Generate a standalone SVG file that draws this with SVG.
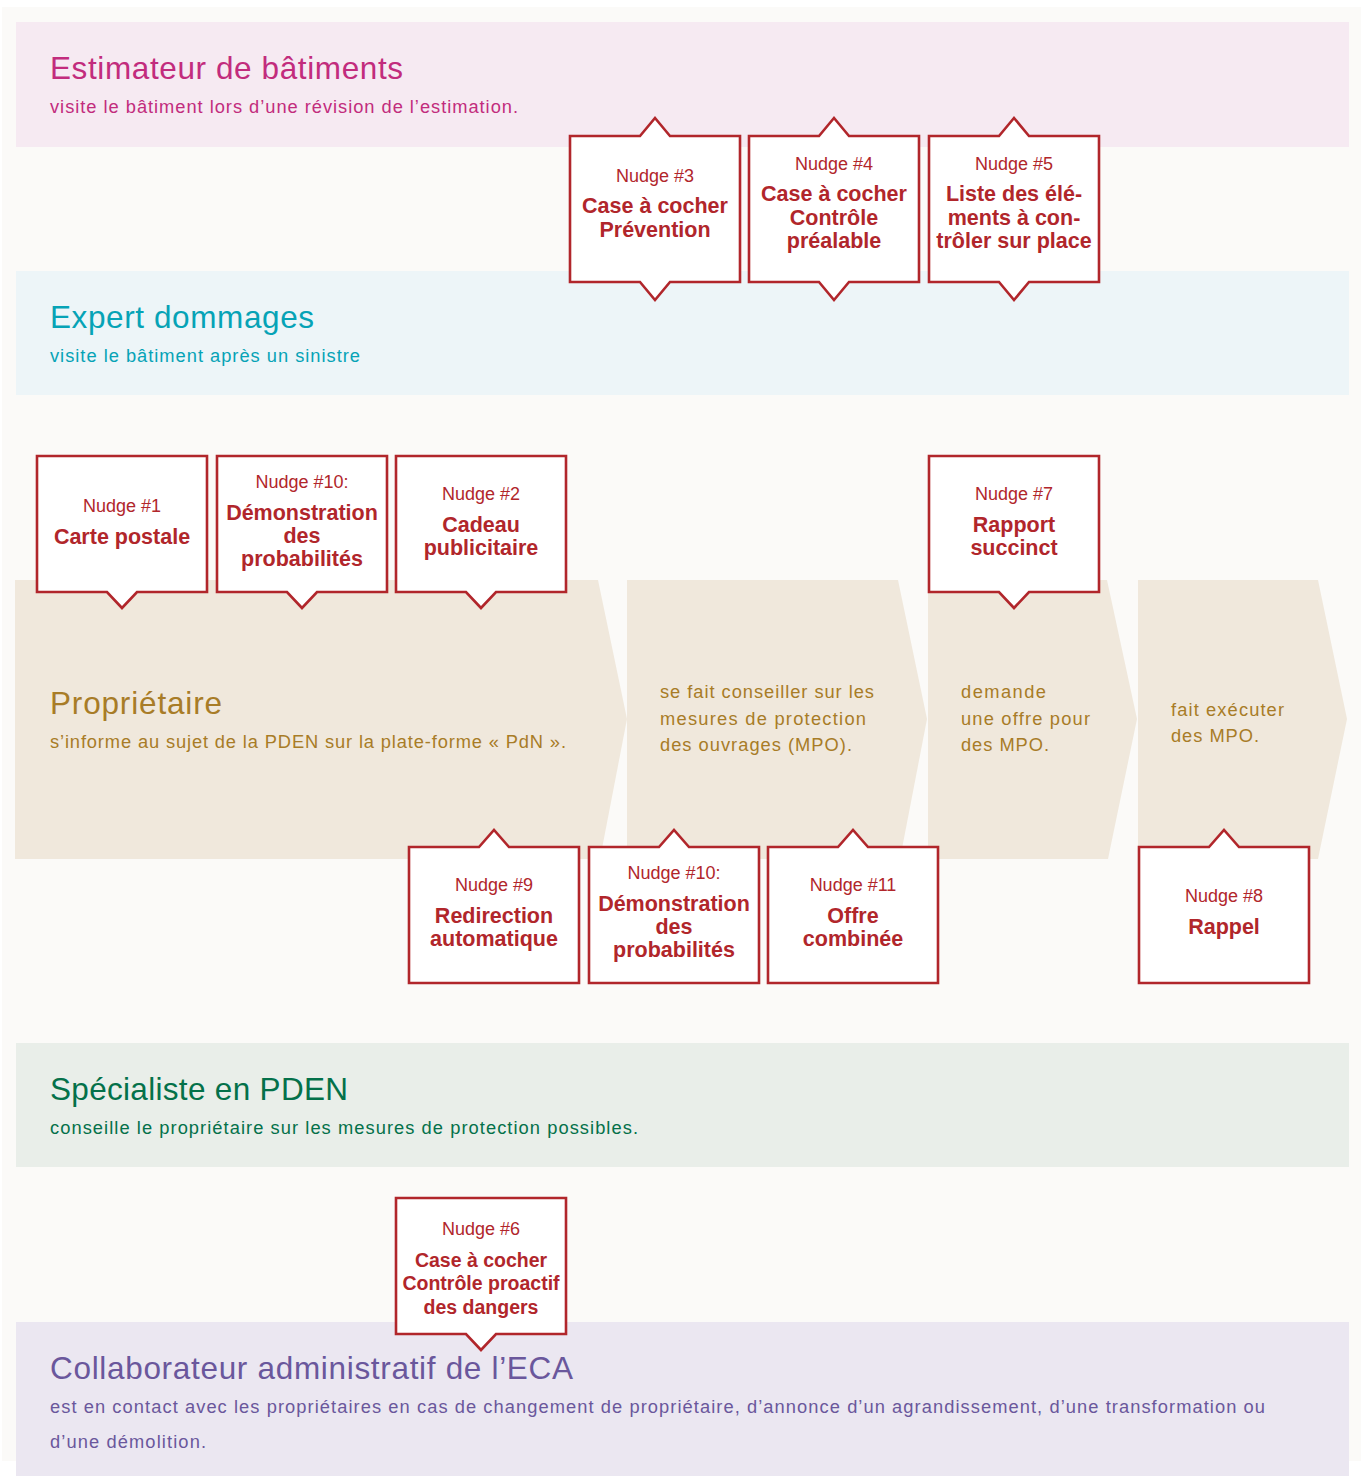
<svg xmlns="http://www.w3.org/2000/svg" width="1363" height="1476" viewBox="0 0 1363 1476">
<style>
  .bg{fill:#fbfaf8}
  .chev{fill:#f0e8dc}
  .nudge{fill:#ffffff;stroke:#b1262b;stroke-width:2.6;stroke-linejoin:miter}
  .nl{font-family:"Liberation Sans",Arial,sans-serif;font-size:18px;fill:#b1262b;text-anchor:middle}
  .nt{font-family:"Liberation Sans",Arial,sans-serif;font-size:21.5px;font-weight:bold;fill:#b1262b;text-anchor:middle}
  .nt6{font-family:"Liberation Sans",Arial,sans-serif;font-size:19.5px;font-weight:bold;fill:#b1262b;text-anchor:middle}
  .lt{font-family:"Liberation Sans",Arial,sans-serif;font-size:31.5px}
  .ls{font-family:"Liberation Sans",Arial,sans-serif;font-size:18.3px}
  .pink{fill:#c22c7d}
  .teal{fill:#06a3b6}
  .gold{fill:#a87c27}
  .green{fill:#04714a}
  .purple{fill:#6a579c}
</style>
<rect x="0" y="0" width="1363" height="1476" fill="#ffffff"/>
<rect class="bg" x="2" y="7" width="1359" height="1454"/>

<g id="lane-estimateur">
  <rect x="16" y="22" width="1333" height="125" fill="#f6eaf2"/>
  <text class="lt pink" x="50" y="79" textLength="353">Estimateur de bâtiments</text>
  <text class="ls pink" x="50" y="113" textLength="468">visite le bâtiment lors d’une révision de l’estimation.</text>
</g>
<g id="lane-expert">
  <rect x="16" y="271" width="1333" height="124" fill="#edf5f8"/>
  <text class="lt teal" x="50" y="328" textLength="264">Expert dommages</text>
  <text class="ls teal" x="50" y="362" textLength="310">visite le bâtiment après un sinistre</text>
</g>
<g id="lane-specialiste">
  <rect x="16" y="1043" width="1333" height="124" fill="#e9eee9"/>
  <text class="lt green" x="50" y="1100" textLength="298">Spécialiste en PDEN</text>
  <text class="ls green" x="50" y="1134" textLength="588">conseille le propriétaire sur les mesures de protection possibles.</text>
</g>
<g id="lane-collaborateur">
  <rect x="16" y="1322" width="1333" height="154" fill="#ebe7f1"/>
  <text class="lt purple" x="50" y="1379" textLength="523">Collaborateur administratif de l’ECA</text>
  <text class="ls purple" x="50" y="1413" textLength="1215">est en contact avec les propriétaires en cas de changement de propriétaire, d’annonce d’un agrandissement, d’une transformation ou</text>
  <text class="ls purple" x="50" y="1448" textLength="156">d’une démolition.</text>
</g>

<g id="proprietaire-step1">
  <polygon class="chev" points="15,580 598,580 627,719 600,859 15,859"/>
  <text class="lt gold" x="50" y="714" textLength="172">Propriétaire</text>
  <text class="ls gold" x="50" y="748" textLength="516">s’informe au sujet de la PDEN sur la plate-forme « PdN ».</text>
</g>
<g id="proprietaire-step2">
  <polygon class="chev" points="627,580 898,580 927,719 900,859 627,859"/>
  <text class="ls gold" x="660" y="698" textLength="214">se fait conseiller sur les</text>
  <text class="ls gold" x="660" y="725" textLength="206">mesures de protection</text>
  <text class="ls gold" x="660" y="751" textLength="192">des ouvrages (MPO).</text>
</g>
<g id="proprietaire-step3">
  <polygon class="chev" points="928,580 1107,580 1137,719 1108,859 928,859"/>
  <text class="ls gold" x="961" y="698" textLength="85">demande</text>
  <text class="ls gold" x="961" y="725" textLength="129">une offre pour</text>
  <text class="ls gold" x="961" y="751" textLength="88">des MPO.</text>
</g>
<g id="proprietaire-step4">
  <polygon class="chev" points="1138,580 1318,580 1347,719 1318,859 1138,859"/>
  <text class="ls gold" x="1171" y="716" textLength="113">fait exécuter</text>
  <text class="ls gold" x="1171" y="742" textLength="88">des MPO.</text>
</g>

<g id="connectors"></g>

<g id="nudge-3">
  <path class="nudge" d="M570 136 H640 L655 118 L670 136 H740 V282 H670 L655 300 L640 282 H570 Z"/>
  <text class="nl" x="655" y="182">Nudge #3</text>
  <text class="nt" x="655" y="213">Case à cocher</text>
  <text class="nt" x="655" y="237">Prévention</text>
</g>
<g id="nudge-4">
  <path class="nudge" d="M749 136 H819 L834 118 L849 136 H919 V282 H849 L834 300 L819 282 H749 Z"/>
  <text class="nl" x="834" y="170">Nudge #4</text>
  <text class="nt" x="834" y="201">Case à cocher</text>
  <text class="nt" x="834" y="225">Contrôle</text>
  <text class="nt" x="834" y="248">préalable</text>
</g>
<g id="nudge-5">
  <path class="nudge" d="M929 136 H999 L1014 118 L1029 136 H1099 V282 H1029 L1014 300 L999 282 H929 Z"/>
  <text class="nl" x="1014" y="170">Nudge #5</text>
  <text class="nt" x="1014" y="201">Liste des élé-</text>
  <text class="nt" x="1014" y="225">ments à con-</text>
  <text class="nt" x="1014" y="248">trôler sur place</text>
</g>

<g id="nudge-1">
  <path class="nudge" d="M37 456 H207 V592 H137 L122 608 L107 592 H37 Z"/>
  <text class="nl" x="122" y="512">Nudge #1</text>
  <text class="nt" x="122" y="544">Carte postale</text>
</g>
<g id="nudge-10a">
  <path class="nudge" d="M217 456 H387 V592 H317 L302 608 L287 592 H217 Z"/>
  <text class="nl" x="302" y="488">Nudge #10:</text>
  <text class="nt" x="302" y="520">Démonstration</text>
  <text class="nt" x="302" y="543">des</text>
  <text class="nt" x="302" y="566">probabilités</text>
</g>
<g id="nudge-2">
  <path class="nudge" d="M396 456 H566 V592 H496 L481 608 L466 592 H396 Z"/>
  <text class="nl" x="481" y="500">Nudge #2</text>
  <text class="nt" x="481" y="532">Cadeau</text>
  <text class="nt" x="481" y="555">publicitaire</text>
</g>
<g id="nudge-7">
  <path class="nudge" d="M929 456 H1099 V592 H1029 L1014 608 L999 592 H929 Z"/>
  <text class="nl" x="1014" y="500">Nudge #7</text>
  <text class="nt" x="1014" y="532">Rapport</text>
  <text class="nt" x="1014" y="555">succinct</text>
</g>

<g id="nudge-9">
  <path class="nudge" d="M409 847 H479 L494 830 L509 847 H579 V983 H409 Z"/>
  <text class="nl" x="494" y="891">Nudge #9</text>
  <text class="nt" x="494" y="923">Redirection</text>
  <text class="nt" x="494" y="946">automatique</text>
</g>
<g id="nudge-10b">
  <path class="nudge" d="M589 847 H659 L674 830 L689 847 H759 V983 H589 Z"/>
  <text class="nl" x="674" y="879">Nudge #10:</text>
  <text class="nt" x="674" y="911">Démonstration</text>
  <text class="nt" x="674" y="934">des</text>
  <text class="nt" x="674" y="957">probabilités</text>
</g>
<g id="nudge-11">
  <path class="nudge" d="M768 847 H838 L853 830 L868 847 H938 V983 H768 Z"/>
  <text class="nl" x="853" y="891">Nudge #11</text>
  <text class="nt" x="853" y="923">Offre</text>
  <text class="nt" x="853" y="946">combinée</text>
</g>
<g id="nudge-8">
  <path class="nudge" d="M1139 847 H1209 L1224 830 L1239 847 H1309 V983 H1139 Z"/>
  <text class="nl" x="1224" y="902">Nudge #8</text>
  <text class="nt" x="1224" y="934">Rappel</text>
</g>

<g id="nudge-6">
  <path class="nudge" d="M396 1198 H566 V1334 H496 L481 1350 L466 1334 H396 Z"/>
  <text class="nl" x="481" y="1235">Nudge #6</text>
  <text class="nt6" x="481" y="1267">Case à cocher</text>
  <text class="nt6" x="481" y="1290">Contrôle proactif</text>
  <text class="nt6" x="481" y="1314">des dangers</text>
</g>
</svg>
